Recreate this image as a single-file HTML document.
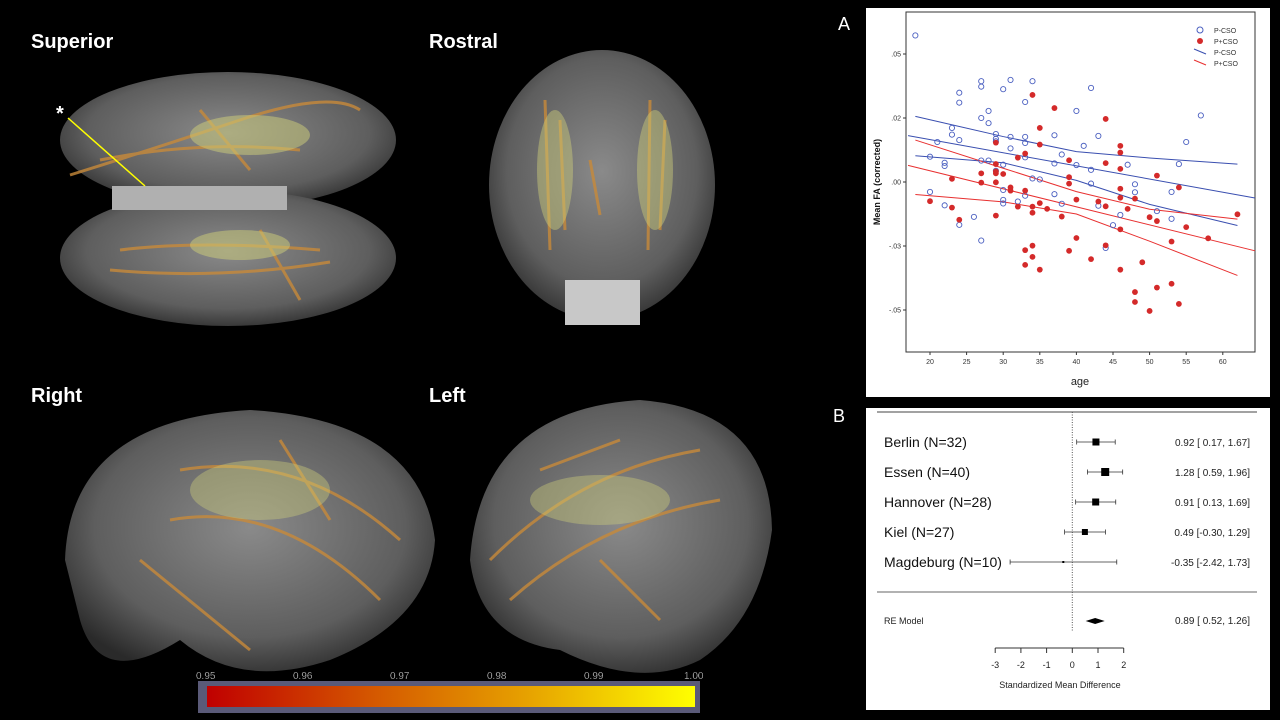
<!DOCTYPE html>
<html><head><meta charset="utf-8">
<style>
html,body{margin:0;padding:0;background:#000;}
body{width:1280px;height:720px;position:relative;overflow:hidden;font-family:"Liberation Sans",sans-serif;}
.lbl{position:absolute;color:#fff;font-weight:bold;font-size:20px;}
svg{position:absolute;left:0;top:0;}
</style></head>
<body>
<svg width="1280" height="720">
<defs>
<radialGradient id="brain" cx="50%" cy="45%" r="60%">
<stop offset="0%" stop-color="#8a8a8a"/><stop offset="70%" stop-color="#5e5e5e"/><stop offset="100%" stop-color="#2a2a2a"/>
</radialGradient>
<linearGradient id="cbar" x1="0" x2="1" y1="0" y2="0">
<stop offset="0" stop-color="#c00000"/><stop offset="0.35" stop-color="#d55a00"/><stop offset="0.65" stop-color="#e6a000"/><stop offset="1" stop-color="#ffff00"/>
</linearGradient>
</defs>
<!-- Superior -->
<g>
<ellipse cx="228" cy="140" rx="168" ry="68" fill="url(#brain)"/>
<ellipse cx="228" cy="258" rx="168" ry="68" fill="url(#brain)"/>
<rect x="112" y="186" width="175" height="24" fill="#b0b0b0"/>
<g stroke="#c88a3a" stroke-width="3" fill="none" opacity="0.8">
<path d="M70 175 Q150 150 240 120 T360 110"/><path d="M100 160 Q200 140 300 150"/><path d="M120 250 Q200 240 320 250"/><path d="M110 270 Q220 280 330 262"/><path d="M200 110 L250 170"/><path d="M260 230 L300 300"/>
</g>
<g fill="#cfcf7a" opacity="0.5"><ellipse cx="250" cy="135" rx="60" ry="20"/><ellipse cx="240" cy="245" rx="50" ry="15"/></g>
</g>
<line x1="68" y1="118" x2="145" y2="186" stroke="#ffff00" stroke-width="1.5"/>
<text x="56" y="120" fill="#fff" font-size="20" font-weight="bold" font-family="Liberation Sans, sans-serif">*</text>
<!-- Rostral -->
<g>
<ellipse cx="602" cy="185" rx="113" ry="135" fill="url(#brain)"/>
<rect x="565" y="280" width="75" height="45" fill="#c8c8c8"/>
<g stroke="#c88a3a" stroke-width="3" fill="none" opacity="0.8">
<path d="M545 100 L550 250"/><path d="M560 120 L565 230"/><path d="M650 100 L648 250"/><path d="M665 120 L660 230"/><path d="M590 160 L600 215"/>
</g>
<g fill="#cfcf7a" opacity="0.45"><ellipse cx="555" cy="170" rx="18" ry="60"/><ellipse cx="655" cy="170" rx="18" ry="60"/></g>
</g>
<!-- Right -->
<g>
<path d="M65 560 Q70 420 250 410 Q420 420 435 540 Q430 620 330 660 Q240 690 180 640 Q100 690 80 620 Z" fill="url(#brain)"/>
<g stroke="#c88a3a" stroke-width="3" fill="none" opacity="0.8">
<path d="M180 470 Q300 450 400 540"/><path d="M170 520 Q280 500 380 600"/><path d="M140 560 L250 650"/><path d="M280 440 L330 520"/>
</g>
<ellipse cx="260" cy="490" rx="70" ry="30" fill="#cfcf7a" opacity="0.4"/>
</g>
<!-- Left -->
<g>
<path d="M470 560 Q480 410 640 400 Q770 410 772 530 Q760 620 700 660 Q640 690 560 650 Q480 640 470 560 Z" fill="url(#brain)"/>
<g stroke="#c88a3a" stroke-width="3" fill="none" opacity="0.8">
<path d="M490 560 Q580 470 700 450"/><path d="M510 600 Q600 520 720 500"/><path d="M600 560 L660 620"/><path d="M540 470 L620 440"/>
</g>
<ellipse cx="600" cy="500" rx="70" ry="25" fill="#cfcf7a" opacity="0.4"/>
</g>
<!-- Colorbar -->
<g>
<rect x="198" y="681" width="502" height="32" fill="#5a5a78"/>
<rect x="207" y="686" width="488" height="21" fill="url(#cbar)"/>
<g fill="#eee" font-size="10" font-family="Liberation Sans, sans-serif" stroke="#000" stroke-width="0.3">
<text x="196" y="679">0.95</text><text x="293" y="679">0.96</text><text x="390" y="679">0.97</text><text x="487" y="679">0.98</text><text x="584" y="679">0.99</text><text x="684" y="679">1.00</text>
</g>
</g>
<!-- panel backgrounds -->
<rect x="866" y="8" width="404" height="389" fill="#fff"/>
<rect x="866" y="408" width="404" height="302" fill="#fff"/>
<g id="scatter"></g>
<g id="forest"></g>
</svg>
<div class="lbl" style="left:31px;top:31px">Superior</div>
<div class="lbl" style="left:429px;top:31px">Rostral</div>
<div class="lbl" style="left:31px;top:385px">Right</div>
<div class="lbl" style="left:429px;top:385px">Left</div>
<div style="position:absolute;left:838px;top:14px;color:#fff;font-size:18px">A</div>
<div style="position:absolute;left:833px;top:406px;color:#fff;font-size:18px">B</div>
<script>
const NS="http://www.w3.org/2000/svg";
function mk(tag,attrs,parent){const e=document.createElementNS(NS,tag);for(const k in attrs)e.setAttribute(k,attrs[k]);parent.appendChild(e);return e;}
// ---- Scatter data (y in units of 0.01) ----
const blueAges=[18,20,20,21,22,22,22,23,23,24,24,24,24,26,27,27,27,27,27,28,28,28,29,29,29,29,30,30,30,30,30,31,31,31,32,33,33,33,33,33,34,34,35,37,37,37,38,38,40,40,41,42,42,42,43,43,44,45,46,47,48,48,51,53,53,54,55,57];
const blueVals=[4.58,0.79,-0.31,1.25,0.6,0.5,-0.73,1.69,1.48,2.79,2.48,1.31,-1.34,-1.09,3.15,2.98,2.0,0.67,-1.83,2.22,1.84,0.67,1.5,1.35,1.27,0.35,2.9,0.54,-0.25,-0.56,-0.67,3.19,1.41,1.05,-0.61,2.5,1.41,1.22,0.77,-0.43,3.15,0.11,0.08,1.46,0.58,-0.38,0.86,-0.68,2.22,0.53,1.13,2.94,0.38,-0.05,1.44,-0.74,-2.06,-1.35,-1.03,0.54,-0.07,-0.32,-0.91,-0.31,-1.15,0.56,1.25,2.08];
const redAges=[20,23,23,24,27,27,29,29,29,29,29,29,30,31,31,32,32,33,33,33,33,34,34,34,34,34,35,35,35,35,36,37,38,39,39,39,39,40,40,42,43,44,44,44,44,46,46,46,46,46,46,46,47,48,48,48,49,50,50,51,51,51,53,53,54,54,55,58,62];
const redVals=[-0.6,0.1,-0.8,-1.18,0.27,-0.02,1.23,0.56,0.33,0.27,-0.01,-1.05,0.25,-0.17,-0.27,0.76,-0.77,0.89,-0.27,-2.13,-2.59,2.72,-0.77,-0.96,-1.99,-2.34,1.69,1.17,-0.66,-2.74,-0.84,2.31,-1.08,0.68,0.15,-0.05,-2.15,-0.55,-1.75,-2.41,-0.61,1.97,0.59,-0.76,-1.98,1.13,0.92,0.41,-0.21,-0.49,-1.48,-2.74,-0.84,-0.52,-3.44,-3.75,-2.51,-1.1,-4.03,0.2,-1.22,-3.3,-1.86,-3.18,-0.17,-3.81,-1.41,-1.76,-1.01];
const lineAges=[17,64.4];
const blueFit=[1.45,-0.5];
const redFit=[0.52,-2.15];
const ciAges=[18,30,40,50,62];
const blueUpper=[2.05,1.42,0.95,0.75,0.56];
const blueLower=[0.82,0.6,0.05,-0.7,-1.36];
const redUpper=[1.31,0.43,-0.3,-0.85,-1.16];
const redLower=[-0.39,-0.62,-1.0,-1.85,-2.92];
const yTickVals=[4,2,0,-2,-4];
const yTickLabels=[".05",".02",".00","-.03","-.05"];
const xTicks=[20,25,30,35,40,45,50,55,60];
const sx=a=>930+(a-20)*7.32;
const sy=v=>182-v*32;
const S=document.getElementById('scatter');
const box=mk('rect',{x:906,y:12,width:349,height:340,fill:'none',stroke:'#333','stroke-width':1},S);


yTickVals.forEach((v,i)=>{
  mk('line',{x1:903,x2:906,y1:sy(v),y2:sy(v),stroke:'#333'},S);
  const t=mk('text',{x:901,y:sy(v)+2.5,'font-size':7,'text-anchor':'end',fill:'#333'},S);t.textContent=yTickLabels[i];
  
  
});
xTicks.forEach(a=>{
  mk('line',{x1:sx(a),x2:sx(a),y1:352,y2:355,stroke:'#333'},S);
  const t=mk('text',{x:sx(a),y:364,'font-size':7,'text-anchor':'middle',fill:'#333'},S);t.textContent=a;
  
  
});
const xt=mk('text',{x:1080,y:385,'font-size':11,'text-anchor':'middle',fill:'#222'},S);xt.textContent='age';


const yt=mk('text',{x:0,y:0,'font-size':9,'font-weight':'bold','text-anchor':'middle',fill:'#111',transform:'translate(880,182) rotate(-90)'},S);yt.textContent='Mean FA (corrected)';


function poly(ages,vals,col,name){
  const p=mk('polyline',{points:ages.map((a,i)=>sx(a)+','+sy(vals[i])).join(' '),fill:'none',stroke:col,'stroke-width':1},S);
  
  
}
poly(lineAges,blueFit,'#3a4fb0','fit-line-p-cso');
poly(ciAges,blueUpper,'#3a4fb0','ci-upper-p-cso');
poly(ciAges,blueLower,'#3a4fb0','ci-lower-p-cso');
poly(lineAges,redFit,'#e83030','fit-line-p-plus-cso');
poly(ciAges,redUpper,'#e83030','ci-upper-p-plus-cso');
poly(ciAges,redLower,'#e83030','ci-lower-p-plus-cso');
blueAges.forEach((a,i)=>{
  const c=mk('circle',{cx:sx(a),cy:sy(blueVals[i]),r:2.6,fill:'none',stroke:'#4a5fc0','stroke-width':0.9},S);
  
  
});
redAges.forEach((a,i)=>{
  const c=mk('circle',{cx:sx(a),cy:sy(redVals[i]),r:2.9,fill:'#d42a2a'},S);
  
  
});
// legend
const lg=mk('g',{},S);


mk('circle',{cx:1200,cy:30,r:3,fill:'none',stroke:'#4a5fc0'},lg);
mk('circle',{cx:1200,cy:41,r:3,fill:'#d42a2a'},lg);
mk('line',{x1:1194,y1:49,x2:1206,y2:54,stroke:'#3a4fb0'},lg);
mk('line',{x1:1194,y1:60,x2:1206,y2:65,stroke:'#e83030'},lg);
['P-CSO','P+CSO','P-CSO','P+CSO'].forEach((s,i)=>{const t=mk('text',{x:1214,y:33+i*11,'font-size':7,fill:'#333'},lg);t.textContent=s;});

// ---- Forest data ----
const studies=["Berlin (N=32)","Essen (N=40)","Hannover (N=28)","Kiel (N=27)","Magdeburg (N=10)"];
const est=[0.92,1.28,0.91,0.49,-0.35];
const lo=[0.17,0.59,0.13,-0.30,-2.42];
const hi=[1.67,1.96,1.69,1.29,1.73];
const boxSize=[7,8,7,6,2];
const reEst=0.89, reLo=0.52, reHi=1.26;
const fTicks=[-3,-2,-1,0,1,2];
const fx=v=>1072.3+v*25.7;
const F=document.getElementById('forest');
const fmt=(e,l,h)=>e.toFixed(2)+' ['+(l<0?'':' ')+l.toFixed(2)+', '+h.toFixed(2)+']';
mk('line',{x1:877,x2:1257,y1:412,y2:412,stroke:'#444'},F);
mk('line',{x1:877,x2:1257,y1:592,y2:592,stroke:'#666'},F);
mk('line',{x1:fx(0),x2:fx(0),y1:412,y2:632,stroke:'#555','stroke-dasharray':'1,1.5'},F);
studies.forEach((s,i)=>{
  const y=442+i*30;
  const t=mk('text',{x:884,y:y+5,'font-size':14,fill:'#111'},F);t.textContent=s;
  
  
  mk('line',{x1:fx(lo[i]),x2:fx(hi[i]),y1:y,y2:y,stroke:'#333','stroke-width':0.8},F);
  mk('line',{x1:fx(lo[i]),x2:fx(lo[i]),y1:y-2.5,y2:y+2.5,stroke:'#333','stroke-width':0.8},F);
  mk('line',{x1:fx(hi[i]),x2:fx(hi[i]),y1:y-2.5,y2:y+2.5,stroke:'#333','stroke-width':0.8},F);
  const b=mk('rect',{x:fx(est[i])-boxSize[i]/2,y:y-boxSize[i]/2,width:boxSize[i],height:boxSize[i],fill:'#000'},F);
  
  
  const v=mk('text',{x:1250,y:y+4,'font-size':10,'text-anchor':'end',fill:'#222'},F);v.textContent=fmt(est[i],lo[i],hi[i]);
  
  
});
const rt=mk('text',{x:884,y:624,'font-size':9,fill:'#222'},F);rt.textContent='RE Model';
const dm=mk('polygon',{points:`${fx(reLo)},621 ${fx(reEst)},618 ${fx(reHi)},621 ${fx(reEst)},624`,fill:'#000'},F);


const rv=mk('text',{x:1250,y:624,'font-size':10,'text-anchor':'end',fill:'#222'},F);rv.textContent=fmt(reEst,reLo,reHi);
mk('line',{x1:fx(-3),x2:fx(2),y1:648,y2:648,stroke:'#333'},F);
fTicks.forEach(v=>{
  mk('line',{x1:fx(v),x2:fx(v),y1:648,y2:653,stroke:'#333'},F);
  const t=mk('text',{x:fx(v),y:668,'font-size':9,'text-anchor':'middle',fill:'#222'},F);t.textContent=v;
  
  
});
const ft=mk('text',{x:1060,y:688,'font-size':9,'text-anchor':'middle',fill:'#222'},F);ft.textContent='Standardized Mean Difference';


</script>
</body></html>
